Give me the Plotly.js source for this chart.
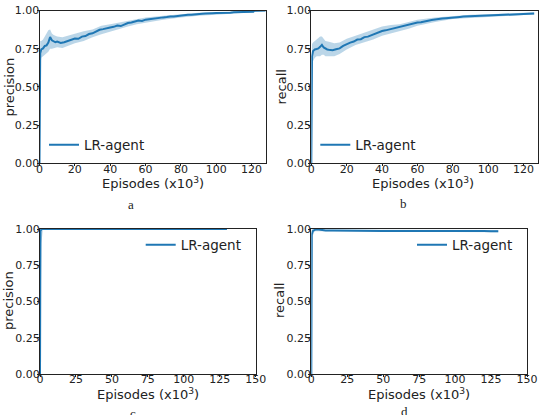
<!DOCTYPE html>
<html>
<head>
<meta charset="utf-8">
<script src="https://cdn.plot.ly/plotly-3.0.1.min.js"></script>
<style>html,body{margin:0;padding:0;background:#fff;}#chart{width:543px;height:415px;}</style>
</head>
<body>
<div id="chart"></div>
<script>
// ---------- data ----------
const seriesName = 'LR-agent';
const captions = ['a', 'b', 'c', 'd'];
const yTitles = ['precision', 'recall', 'precision', 'recall'];
const xTitle = 'Episodes (x10<sup>3</sup>)';
const yTickVals = [0, 0.25, 0.5, 0.75, 1.0];
const yTickText = ['0.00', '0.25', '0.50', '0.75', '1.00'];
const xTicksAB = [0, 20, 40, 60, 80, 100, 120];
const xTicksCD = [0, 25, 50, 75, 100, 125, 150];

// panel a : precision
const epA = [0, 0.4, 1, 2, 3, 4, 5, 6, 7, 8, 9, 10,
  12, 14, 16, 18, 20, 22, 24, 26, 28, 30, 32, 34, 36, 38, 40, 42, 44, 46, 48, 50,
  52, 54, 56, 58, 60, 62, 64, 66, 68, 70, 72, 74, 76, 78, 80, 82, 84, 86, 88, 90,
  92, 94, 96, 98, 100, 102, 104, 106, 108, 110, 112, 114, 116, 118, 120,
  121, 121.5, 124, 126, 128];
const precA = [0, 0.72, 0.745, 0.752, 0.768, 0.772, 0.79, 0.826, 0.805, 0.797, 0.792, 0.796,
  0.788, 0.792, 0.800, 0.806, 0.817, 0.815, 0.829, 0.833, 0.846, 0.851, 0.862, 0.874, 0.878, 0.886, 0.889, 0.893, 0.901, 0.898, 0.909, 0.918,
  0.921, 0.929, 0.934, 0.931, 0.940, 0.943, 0.947, 0.950, 0.951, 0.955, 0.957, 0.961, 0.960, 0.964, 0.966, 0.969, 0.972, 0.973, 0.976, 0.975,
  0.978, 0.980, 0.979, 0.982, 0.983, 0.983, 0.985, 0.986, 0.986, 0.988, 0.989, 0.988, 0.990, 0.991, 0.991,
  0.992, 0.999, 1.0, 1.0, 1.0];
const bandEpA = [0, 0.4, 1, 2, 3, 4, 5, 6, 7, 8, 10, 13, 16, 20, 25, 30, 35, 40, 45, 50, 55, 60, 70, 80, 90, 100, 110, 120, 122, 128];
const precAHi = [0, 0.80, 0.80, 0.81, 0.83, 0.85, 0.87, 0.875, 0.85, 0.84, 0.83, 0.825, 0.835, 0.845, 0.865, 0.875, 0.90, 0.91, 0.92, 0.935, 0.945, 0.955, 0.965, 0.975, 0.985, 0.99, 0.995, 0.998, 1.0, 1.0];
const precALo = [0, 0.62, 0.69, 0.70, 0.71, 0.72, 0.73, 0.75, 0.75, 0.75, 0.76, 0.755, 0.765, 0.785, 0.80, 0.825, 0.845, 0.865, 0.88, 0.895, 0.91, 0.92, 0.94, 0.955, 0.965, 0.972, 0.978, 0.984, 0.99, 0.995];

// panel b : recall
const epB = [0, 0.4, 1, 2, 3, 4, 5, 6, 7, 8, 9, 10,
  12, 14, 16, 18, 20, 22, 24, 26, 28, 30, 32, 34, 36, 38, 40, 42, 44, 46, 48, 50,
  52, 54, 56, 58, 60, 62, 64, 66, 68, 70, 72, 74, 76, 78, 80, 82, 84, 86, 88, 90,
  92, 94, 96, 98, 100, 102, 104, 106, 108, 110, 112, 114, 116, 118, 120, 122, 124, 126];
const recB = [0, 0.70, 0.735, 0.745, 0.748, 0.752, 0.762, 0.775, 0.758, 0.750, 0.745, 0.743,
  0.740, 0.746, 0.752, 0.768, 0.781, 0.790, 0.797, 0.810, 0.812, 0.826, 0.829, 0.838, 0.851, 0.858, 0.866, 0.870, 0.876, 0.878, 0.886, 0.889,
  0.896, 0.902, 0.909, 0.913, 0.921, 0.923, 0.929, 0.933, 0.938, 0.941, 0.946, 0.947, 0.950, 0.951, 0.955, 0.955, 0.958, 0.960, 0.961, 0.963,
  0.962, 0.965, 0.966, 0.967, 0.966, 0.969, 0.970, 0.970, 0.972, 0.973, 0.972, 0.975, 0.976, 0.976, 0.978, 0.979, 0.981, 0.980];
const bandEpB = [0, 0.4, 1, 2, 3, 4, 5, 6, 7, 8, 10, 13, 16, 20, 25, 30, 35, 40, 45, 50, 55, 60, 70, 80, 90, 100, 110, 120, 124, 126];
const recBHi = [0, 0.78, 0.79, 0.80, 0.81, 0.82, 0.83, 0.83, 0.815, 0.80, 0.795, 0.785, 0.79, 0.815, 0.835, 0.855, 0.875, 0.895, 0.905, 0.91, 0.925, 0.94, 0.955, 0.965, 0.972, 0.976, 0.98, 0.986, 0.988, 0.988];
const recBLo = [0, 0.60, 0.67, 0.69, 0.70, 0.70, 0.70, 0.71, 0.71, 0.70, 0.70, 0.70, 0.715, 0.745, 0.775, 0.795, 0.81, 0.835, 0.85, 0.865, 0.88, 0.90, 0.925, 0.945, 0.952, 0.958, 0.964, 0.97, 0.972, 0.972];

// panel c : precision
const epC = [0, 0.3, 1, 5, 10, 20, 30, 40, 50, 60, 70, 80, 90, 100, 110, 120, 130];
const precC = [0, 0.985, 1, 1, 1, 1, 1, 1, 1, 1, 1, 1, 1, 1, 1, 1, 1];
const bandEpC = [0, 0.3, 1, 2, 130];
const precCHi = [0, 1, 1, 1, 1];
const precCLo = [0, 0.2, 0.9, 1, 1];

// panel d : recall
const epD = [0, 0.3, 1, 2, 3, 4, 5, 6, 8, 10, 15, 20, 25, 30, 35, 40, 45, 50, 55, 60, 65, 70, 75, 80, 85, 90, 95, 100, 103, 105, 107, 108, 110, 115, 120, 125, 130];
const recD = [0, 0.96, 0.985, 0.993, 0.997, 0.998, 0.996, 0.994, 0.992, 0.99, 0.989, 0.988, 0.988, 0.987, 0.988, 0.987, 0.987, 0.986, 0.987, 0.987, 0.986, 0.987, 0.986, 0.987, 0.986, 0.987, 0.986, 0.987, 0.99, 0.987, 0.991, 0.986, 0.987, 0.986, 0.986, 0.985, 0.985];
const bandEpD = [0, 0.3, 1, 2, 10, 50, 100, 130];
const recDHi = [0, 1, 1, 1, 0.995, 0.994, 0.994, 0.993];
const recDLo = [0, 0.3, 0.95, 0.985, 0.984, 0.979, 0.979, 0.977];

// ---------- styling ----------
const W = 543, H = 415;
const lineColor = '#1f77b4';
const bandColor = 'rgba(31,119,180,0.3)';
const ink = '#222';
const tickFont = {family: 'DejaVu Sans', size: 11, color: ink};
const titleFont = {family: 'DejaVu Sans', size: 13, color: ink};

// plot areas in pixels [left, right, top, bottom]
const boxes = [
  [39.5, 265.7, 10.5, 163.3],
  [311.3, 537.7, 10.5, 163.3],
  [40, 255.7, 229, 374],
  [311.3, 527, 229, 374]
];
const px = v => v / W, py = v => 1 - v / H;

function band(x, hi, lo, ax) {
  return {
    x: x.concat(x.slice().reverse()),
    y: hi.concat(lo.slice().reverse()),
    xaxis: 'x' + ax, yaxis: 'y' + ax,
    type: 'scatter', mode: 'lines', fill: 'toself',
    fillcolor: bandColor, line: {width: 0}, hoverinfo: 'skip', showlegend: false
  };
}
function line(x, y, ax, leg) {
  return {
    x: x, y: y, xaxis: 'x' + ax, yaxis: 'y' + ax,
    type: 'scatter', mode: 'lines', name: seriesName,
    line: {color: lineColor, width: 2}, cliponaxis: false,
    legend: leg, showlegend: true
  };
}

const data = [
  band(bandEpA, precAHi, precALo, ''), line(epA, precA, '', 'legend'),
  band(bandEpB, recBHi, recBLo, '2'), line(epB, recB, '2', 'legend2'),
  band(bandEpC, precCHi, precCLo, '3'), line(epC, precC, '3', 'legend3'),
  band(bandEpD, recDHi, recDLo, '4'), line(epD, recD, '4', 'legend4')
];

const layout = {
  width: W, height: H,
  margin: {l: 0, r: 0, t: 0, b: 0},
  paper_bgcolor: '#fff', plot_bgcolor: '#fff',
  annotations: [],
  hovermode: false
};
const xRanges = [[0, 128], [0, 128], [0, 150], [0, 150]];
const xTicks = [xTicksAB, xTicksAB, xTicksCD, xTicksCD];
const legendPos = [[54, 145], [325.3, 145], [150.7, 245], [422, 245]];
const captionPos = [[131, 204], [403, 203], [133, 413], [404, 411]];
const yTitlePos = [[8.5, 87], [280.5, 87], [8, 301], [279, 301]];
const xTitlePos = [[152.5, 183], [422.8, 183], [147.7, 393.5], [418.7, 393.5]];
boxes.forEach((b, i) => {
  const s = i === 0 ? '' : String(i + 1);
  layout['xaxis' + s] = {
    domain: [px(b[0]), px(b[1])], anchor: 'y' + s, range: xRanges[i],
    tickvals: xTicks[i], ticktext: xTicks[i].map(String),
    ticks: 'outside', ticklen: 2, tickwidth: 1, tickcolor: ink,
    ticklabelstandoff: -7,
    showline: true, linecolor: ink, linewidth: 1, mirror: true,
    showgrid: false, zeroline: false, tickfont: tickFont
  };
  layout['yaxis' + s] = {
    domain: [py(b[3]), py(b[2])], anchor: 'x' + s, range: [0, 1],
    tickvals: yTickVals, ticktext: yTickText,
    ticks: 'outside', ticklen: 2, tickwidth: 1, tickcolor: ink,
    ticklabelstandoff: -5,
    showline: true, linecolor: ink, linewidth: 1, mirror: true,
    showgrid: false, zeroline: false, tickfont: tickFont
  };
  const lname = i === 0 ? 'legend' : 'legend' + (i + 1);
  layout[lname] = {
    x: px(legendPos[i][0] - 10), y: py(legendPos[i][1]),
    xanchor: 'left', yanchor: 'middle',
    bgcolor: 'rgba(0,0,0,0)', borderwidth: 0,
    font: {family: 'DejaVu Sans', size: 13.5, color: ink}
  };
  layout.annotations.push({
    text: yTitles[i], xref: 'paper', yref: 'paper', textangle: -90,
    x: px(yTitlePos[i][0]), y: py(yTitlePos[i][1]),
    xanchor: 'center', yanchor: 'middle', showarrow: false, font: titleFont
  });
  layout.annotations.push({
    text: xTitle, xref: 'paper', yref: 'paper',
    x: px(xTitlePos[i][0]), y: py(xTitlePos[i][1]),
    xanchor: 'center', yanchor: 'middle', showarrow: false, font: titleFont
  });
  layout.annotations.push({
    text: captions[i], xref: 'paper', yref: 'paper',
    x: px(captionPos[i][0]), y: py(captionPos[i][1]),
    xanchor: 'center', yanchor: 'middle', showarrow: false,
    font: {family: 'Liberation Serif', size: 13, color: ink}
  });
});

Plotly.newPlot('chart', data, layout, {displayModeBar: false, staticPlot: true});
</script>
</body>
</html>
